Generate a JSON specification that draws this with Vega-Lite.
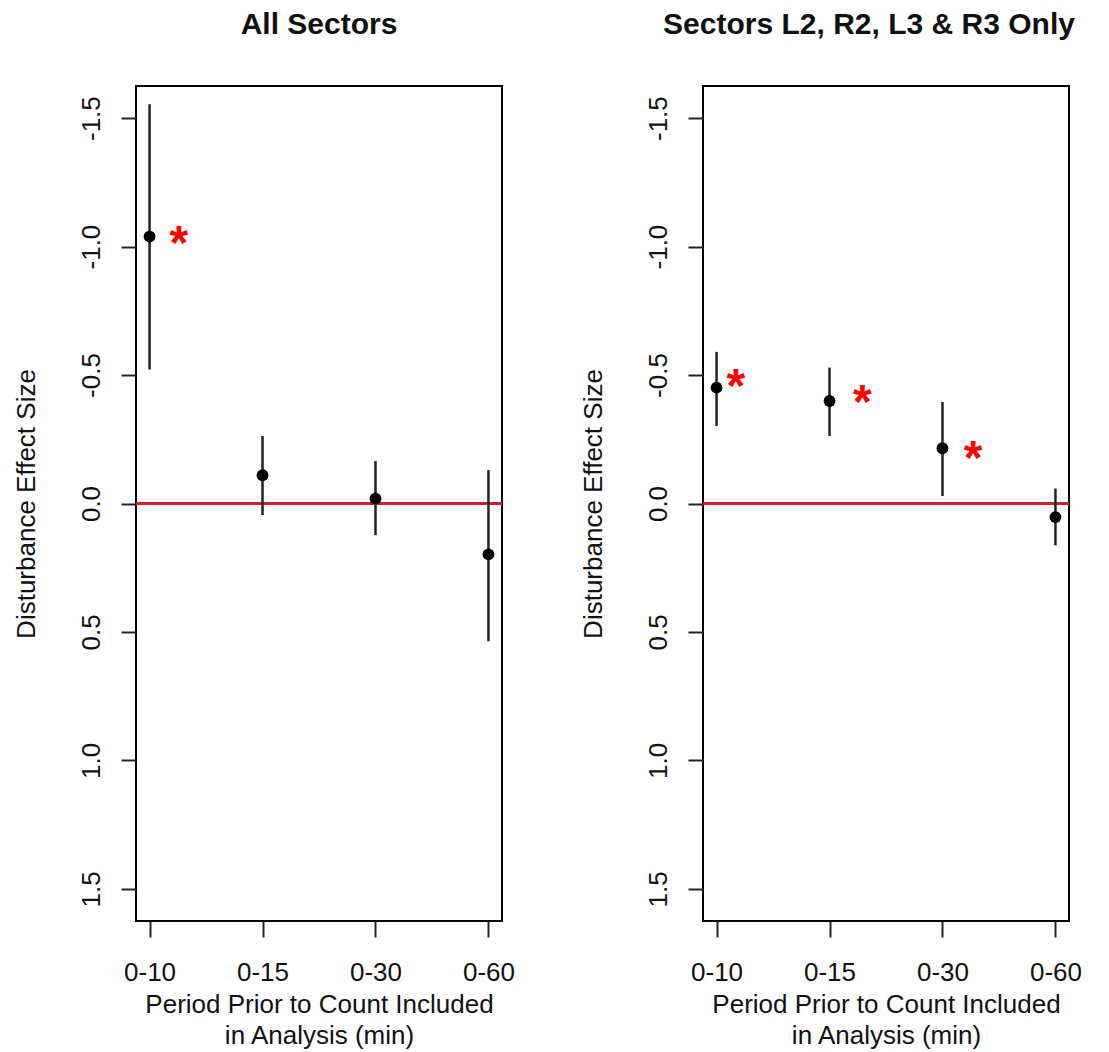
{
  "$schema": "https://vega.github.io/schema/vega-lite/v6.json",
  "background": "white",
  "padding": {"left": 12, "top": 9, "right": 0, "bottom": 0},
  "autosize": {"type": "pad"},
  "spacing": 63,
  "config": {
    "font": "Liberation Sans",
    "view": {"stroke": "#000000", "strokeWidth": 2},
    "axis": {
      "grid": false,
      "domain": false,
      "ticks": true,
      "tickColor": "#222222",
      "tickWidth": 2,
      "labelFont": "Liberation Sans",
      "labelFontSize": 26,
      "labelColor": "#111111",
      "labelOverlap": false,
      "labelFlush": false,
      "titleFont": "Liberation Sans",
      "titleFontSize": 26,
      "titleFontWeight": "normal",
      "titleColor": "#111111"
    },
    "title": {
      "font": "Liberation Sans",
      "fontSize": 30,
      "fontWeight": "bold",
      "color": "#111111",
      "baseline": "alphabetic",
      "anchor": "middle",
      "frame": "group",
      "offset": 45.7
    }
  },
  "datasets": {
    "est": [
      {"panel": "All Sectors", "period": "0-10", "x": 1, "estimate": -1.039, "lower": -1.554, "upper": -0.522},
      {"panel": "All Sectors", "period": "0-15", "x": 2, "estimate": -0.110, "lower": -0.263, "upper": 0.045},
      {"panel": "All Sectors", "period": "0-30", "x": 3, "estimate": -0.019, "lower": -0.165, "upper": 0.123},
      {"panel": "All Sectors", "period": "0-60", "x": 4, "estimate": 0.198, "lower": -0.130, "upper": 0.536},
      {"panel": "Sectors L2, R2, L3 & R3 Only", "period": "0-10", "x": 1, "estimate": -0.451, "lower": -0.590, "upper": -0.302},
      {"panel": "Sectors L2, R2, L3 & R3 Only", "period": "0-15", "x": 2, "estimate": -0.399, "lower": -0.529, "upper": -0.263},
      {"panel": "Sectors L2, R2, L3 & R3 Only", "period": "0-30", "x": 3, "estimate": -0.215, "lower": -0.395, "upper": -0.029},
      {"panel": "Sectors L2, R2, L3 & R3 Only", "period": "0-60", "x": 4, "estimate": 0.053, "lower": -0.058, "upper": 0.163}
    ],
    "stars": [
      {"panel": "All Sectors", "x": 1.26, "y": -1.04, "mark": "*"},
      {"panel": "Sectors L2, R2, L3 & R3 Only", "x": 1.17, "y": -0.486, "mark": "*"},
      {"panel": "Sectors L2, R2, L3 & R3 Only", "x": 2.29, "y": -0.422, "mark": "*"},
      {"panel": "Sectors L2, R2, L3 & R3 Only", "x": 3.27, "y": -0.204, "mark": "*"}
    ],
    "ref": [{"effect": 0}]
  },
  "hconcat": [
    {
      "title": {"text": "All Sectors"},
      "width": 366,
      "height": 835,
      "layer": [
        {
          "data": {"name": "ref"},
          "mark": {"type": "rule", "color": "#cc2030", "strokeWidth": 3},
          "encoding": {"y": {"field": "effect", "type": "quantitative"}}
        },
        {
          "data": {"name": "est"},
          "transform": [{"filter": "datum.panel === 'All Sectors'"}],
          "mark": {"type": "rule", "color": "#222222", "strokeWidth": 2.5},
          "encoding": {
            "x": {"field": "x", "type": "quantitative"},
            "y": {"field": "lower", "type": "quantitative"},
            "y2": {"field": "upper"}
          }
        },
        {
          "data": {"name": "est"},
          "transform": [{"filter": "datum.panel === 'All Sectors'"}],
          "mark": {"type": "circle", "color": "#000000", "opacity": 1, "size": 140},
          "encoding": {
            "x": {"field": "x", "type": "quantitative"},
            "y": {"field": "estimate", "type": "quantitative"}
          }
        },
        {
          "data": {"name": "stars"},
          "transform": [{"filter": "datum.panel === 'All Sectors'"}],
          "mark": {"type": "text", "color": "#ff0000", "fontSize": 48, "fontWeight": "bold", "font": "Liberation Sans", "baseline": "alphabetic", "align": "center", "dy": 23},
          "encoding": {
            "x": {"field": "x", "type": "quantitative"},
            "y": {"field": "y", "type": "quantitative"},
            "text": {"field": "mark"}
          }
        }
      ],
      "encoding": {
        "x": {
          "type": "quantitative",
          "scale": {"domain": [0.88, 4.12], "nice": false, "zero": false},
          "axis": {
            "title": ["Period Prior to Count Included", "in Analysis (min)"],
            "values": [1, 2, 3, 4],
            "labelExpr": "['0-10','0-15','0-30','0-60'][datum.value - 1]",
            "tickSize": 16,
            "labelPadding": 43,
            "labelBaseline": "alphabetic",
            "titleBaseline": "alphabetic",
            "titleLineHeight": 31,
            "titleY": 91
          }
        },
        "y": {
          "type": "quantitative",
          "scale": {"domain": [-1.625, 1.625], "reverse": true, "nice": false, "zero": false},
          "axis": {
            "title": "Disturbance Effect Size",
            "values": [-1.5, -1, -0.5, 0, 0.5, 1, 1.5],
            "labelExpr": "datum.value < 0 ? '-' + format(-datum.value, '.1f') : format(datum.value, '.1f')",
            "labelAngle": -90,
            "labelAlign": "center",
            "labelBaseline": "alphabetic",
            "tickSize": 15,
            "labelPadding": 22,
            "titleAngle": -90,
            "titleBaseline": "alphabetic",
            "titleAlign": "center",
            "titleX": -102,
            "titleY": 417.5
          }
        }
      }
    },
    {
      "title": {"text": "Sectors L2, R2, L3 & R3 Only", "dx": -17},
      "width": 366,
      "height": 835,
      "layer": [
        {
          "data": {"name": "ref"},
          "mark": {"type": "rule", "color": "#cc2030", "strokeWidth": 3},
          "encoding": {"y": {"field": "effect", "type": "quantitative"}}
        },
        {
          "data": {"name": "est"},
          "transform": [{"filter": "datum.panel !== 'All Sectors'"}],
          "mark": {"type": "rule", "color": "#222222", "strokeWidth": 2.5},
          "encoding": {
            "x": {"field": "x", "type": "quantitative"},
            "y": {"field": "lower", "type": "quantitative"},
            "y2": {"field": "upper"}
          }
        },
        {
          "data": {"name": "est"},
          "transform": [{"filter": "datum.panel !== 'All Sectors'"}],
          "mark": {"type": "circle", "color": "#000000", "opacity": 1, "size": 140},
          "encoding": {
            "x": {"field": "x", "type": "quantitative"},
            "y": {"field": "estimate", "type": "quantitative"}
          }
        },
        {
          "data": {"name": "stars"},
          "transform": [{"filter": "datum.panel !== 'All Sectors'"}],
          "mark": {"type": "text", "color": "#ff0000", "fontSize": 48, "fontWeight": "bold", "font": "Liberation Sans", "baseline": "alphabetic", "align": "center", "dy": 23},
          "encoding": {
            "x": {"field": "x", "type": "quantitative"},
            "y": {"field": "y", "type": "quantitative"},
            "text": {"field": "mark"}
          }
        }
      ],
      "encoding": {
        "x": {
          "type": "quantitative",
          "scale": {"domain": [0.88, 4.12], "nice": false, "zero": false},
          "axis": {
            "title": ["Period Prior to Count Included", "in Analysis (min)"],
            "values": [1, 2, 3, 4],
            "labelExpr": "['0-10','0-15','0-30','0-60'][datum.value - 1]",
            "tickSize": 16,
            "labelPadding": 43,
            "labelBaseline": "alphabetic",
            "titleBaseline": "alphabetic",
            "titleLineHeight": 31,
            "titleY": 91
          }
        },
        "y": {
          "type": "quantitative",
          "scale": {"domain": [-1.625, 1.625], "reverse": true, "nice": false, "zero": false},
          "axis": {
            "title": "Disturbance Effect Size",
            "values": [-1.5, -1, -0.5, 0, 0.5, 1, 1.5],
            "labelExpr": "datum.value < 0 ? '-' + format(-datum.value, '.1f') : format(datum.value, '.1f')",
            "labelAngle": -90,
            "labelAlign": "center",
            "labelBaseline": "alphabetic",
            "tickSize": 15,
            "labelPadding": 22,
            "titleAngle": -90,
            "titleBaseline": "alphabetic",
            "titleAlign": "center",
            "titleX": -102,
            "titleY": 417.5
          }
        }
      }
    }
  ]
}
